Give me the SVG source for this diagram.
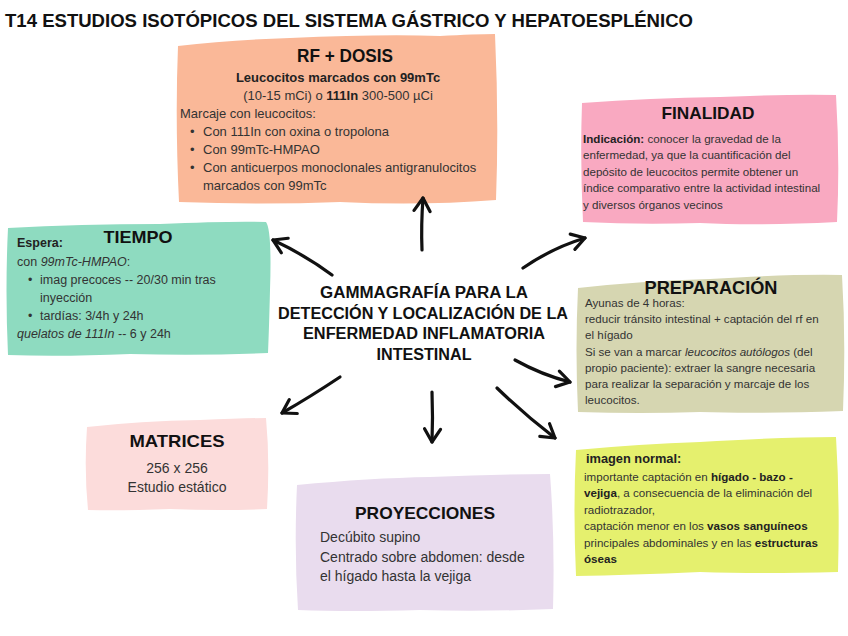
<svg xmlns="http://www.w3.org/2000/svg" width="848" height="636" viewBox="0 0 848 636">
<style>
.h{font-family:"Liberation Sans",Arial,sans-serif;font-weight:bold;fill:#111;}
.t{font-family:"Liberation Sans",Arial,sans-serif;fill:#333;}
.b{font-weight:bold;fill:#222;}
.i{font-style:italic;}
.s{font-size:11.6px;}
.arr{fill:none;stroke:#111;stroke-width:3.2;stroke-linecap:round;stroke-linejoin:round;}
</style>
<defs>
<marker id="ah" viewBox="0 0 20 20" refX="17" refY="10" markerWidth="20" markerHeight="20" markerUnits="userSpaceOnUse" orient="auto">
<path d="M4,2 L17,10 L4,18" fill="none" stroke="#111" stroke-width="3.2" stroke-linecap="round" stroke-linejoin="round"/>
</marker>
</defs>
<rect width="848" height="636" fill="#fff"/>
<text class="h" x="5" y="27" font-size="19" textLength="688" lengthAdjust="spacingAndGlyphs">T14 ESTUDIOS ISOTÓPICOS DEL SISTEMA GÁSTRICO Y HEPATOESPLÉNICO</text>

<g id="rf-dosis">
<path d="M178,46 Q230,40 290,38 Q380,34 440,36 Q475,34 495,34 Q499,120 496,200 Q420,206 340,202 Q260,205 179,202 Q175,120 178,46 Z" fill="#FAB898"/>
<text class="h" x="345" y="62" font-size="18" text-anchor="middle" textLength="96" lengthAdjust="spacingAndGlyphs">RF + DOSIS</text>
<text class="t b" x="338" y="82" font-size="13" text-anchor="middle">Leucocitos marcados con 99mTc</text>
<text class="t" x="338" y="100" font-size="13" text-anchor="middle">(10-15 mCi) o <tspan class="b">111In</tspan> 300-500 µCi</text>
<text class="t" x="180" y="118" font-size="13">Marcaje con leucocitos:</text>
<text class="t" x="190" y="136" font-size="13">•</text>
<text class="t" x="203" y="136" font-size="13">Con 111In con oxina o tropolona</text>
<text class="t" x="190" y="154" font-size="13">•</text>
<text class="t" x="203" y="154" font-size="13">Con 99mTc-HMPAO</text>
<text class="t" x="190" y="172" font-size="13">•</text>
<text class="t" x="203" y="172" font-size="13">Con anticuerpos monoclonales antigranulocitos</text>
<text class="t" x="203" y="190" font-size="13">marcados con 99mTc</text>
</g>

<g id="finalidad">
<path d="M582,103 Q650,98 720,97 Q790,94 836,95 Q840,160 837,222 Q760,226 700,223 Q640,225 583,222 Q580,160 582,103 Z" fill="#F9A9C1"/>
<text class="h" x="708" y="119" font-size="17" text-anchor="middle" textLength="93" lengthAdjust="spacingAndGlyphs">FINALIDAD</text>
<text class="t s" x="583" y="143"><tspan class="b">Indicación:</tspan> conocer la gravedad de la</text>
<text class="t s" x="583" y="159">enfermedad, ya que la cuantificación del</text>
<text class="t s" x="583" y="176">depósito de leucocitos permite obtener un</text>
<text class="t s" x="583" y="192">índice comparativo entre la actividad intestinal</text>
<text class="t s" x="583" y="209">y diversos órganos vecinos</text>
</g>

<g id="tiempo">
<path d="M8,228 Q80,224 160,224 Q230,221 266,222 Q272,230 270,290 Q269,330 268,353 Q200,356 130,354 Q60,357 8,355 Q5,290 8,228 Z" fill="#8EDBC0"/>
<text class="h" x="138" y="243" font-size="17" text-anchor="middle" textLength="69" lengthAdjust="spacingAndGlyphs">TIEMPO</text>
<text class="t b" x="17" y="247" font-size="12.5">Espera:</text>
<text class="t" x="17" y="266" font-size="12.5">con <tspan class="i">99mTc-HMPAO</tspan>:</text>
<text class="t" x="28" y="284" font-size="12.5">•</text>
<text class="t" x="40" y="284" font-size="12.5">imag precoces -- 20/30 min tras</text>
<text class="t" x="40" y="302" font-size="12.5">inyección</text>
<text class="t" x="28" y="320" font-size="12.5">•</text>
<text class="t" x="40" y="320" font-size="12.5">tardías: 3/4h y  24h</text>
<text class="t" x="17" y="338" font-size="12.5"><tspan class="i">quelatos de 111In</tspan> -- 6 y 24h</text>
</g>

<g id="preparacion">
<path d="M578,288 Q640,281 710,279 Q790,274 842,275 Q846,340 843,411 Q760,414 700,412 Q640,414 578,412 Q575,350 578,288 Z" fill="#D6D6B1"/>
<text class="h" x="711" y="294" font-size="18" text-anchor="middle" textLength="133" lengthAdjust="spacingAndGlyphs">PREPARACIÓN</text>
<text class="t s" x="585" y="307">Ayunas de 4 horas:</text>
<text class="t s" x="585" y="323">reducir tránsito intestinal + captación del rf en</text>
<text class="t s" x="585" y="339">el hígado</text>
<text class="t s" x="585" y="356">Si se van a marcar <tspan class="i">leucocitos autólogos</tspan> (del</text>
<text class="t s" x="585" y="372">propio paciente): extraer la sangre necesaria</text>
<text class="t s" x="585" y="388">para realizar la separación y marcaje de los</text>
<text class="t s" x="585" y="404">leucocitos.</text>
</g>

<g id="imagen-normal">
<path d="M576,450 Q640,444 700,442 Q780,437 836,437 Q840,500 838,572 Q760,574 700,572 Q630,575 576,576 Q573,510 576,450 Z" fill="#E5F06E"/>
<text class="t b" x="586" y="463" font-size="12.8">imagen normal:</text>
<text class="t s" x="584" y="481"> importante captación en <tspan class="b">hígado - bazo -</tspan></text>
<text class="t s" x="584" y="497"><tspan class="b">vejiga</tspan>, a consecuencia de la eliminación del</text>
<text class="t s" x="584" y="514">radiotrazador,</text>
<text class="t s" x="584" y="530">captación menor en los <tspan class="b">vasos sanguíneos</tspan></text>
<text class="t s" x="584" y="547">principales abdominales y en las <tspan class="b">estructuras</tspan></text>
<text class="t s b" x="584" y="563">óseas</text>
</g>

<g id="matrices">
<path d="M87,427 Q140,421 200,420 Q245,418 266,418 Q270,460 267,509 Q220,511 170,509 Q120,511 88,510 Q84,470 87,427 Z" fill="#FCDCDB"/>
<text class="h" x="177" y="447" font-size="17" text-anchor="middle" textLength="95" lengthAdjust="spacingAndGlyphs">MATRICES</text>
<text class="t" x="177" y="473" font-size="14" text-anchor="middle">256 x 256</text>
<text class="t" x="177" y="492" font-size="14" text-anchor="middle">Estudio estático</text>
</g>

<g id="proyecciones">
<path d="M297,485 Q370,478 430,477 Q500,474 550,474 Q555,540 553,609 Q480,612 420,610 Q350,612 298,610 Q294,550 297,485 Z" fill="#E9DCEE"/>
<text class="h" x="425" y="519" font-size="17" text-anchor="middle" textLength="140" lengthAdjust="spacingAndGlyphs">PROYECCIONES</text>
<text class="t" x="320" y="542" font-size="14">Decúbito supino</text>
<text class="t" x="320" y="562" font-size="14">Centrado sobre abdomen: desde</text>
<text class="t" x="320" y="581" font-size="14">el hígado hasta la vejiga</text>
</g>

<g id="center">
<text class="h" x="424" y="298" font-size="16" text-anchor="middle" textLength="208" lengthAdjust="spacingAndGlyphs">GAMMAGRAFÍA PARA LA</text>
<text class="h" x="423" y="319" font-size="16" text-anchor="middle" textLength="290" lengthAdjust="spacingAndGlyphs">DETECCIÓN Y LOCALIZACIÓN DE LA</text>
<text class="h" x="424" y="339" font-size="16" text-anchor="middle" textLength="242" lengthAdjust="spacingAndGlyphs">ENFERMEDAD INFLAMATORIA</text>
<text class="h" x="424" y="360" font-size="16" text-anchor="middle" textLength="95" lengthAdjust="spacingAndGlyphs">INTESTINAL</text>
</g>

<g id="connectors">
<path class="arr" marker-end="url(#ah)" d="M422,250 Q421,225 423,198"/>
<path class="arr" marker-end="url(#ah)" d="M332,275 Q305,255 273,240"/>
<path class="arr" marker-end="url(#ah)" d="M523,268 Q552,248 585,238"/>
<path class="arr" marker-end="url(#ah)" d="M515,360 Q542,375 570,382"/>
<path class="arr" marker-end="url(#ah)" d="M497,388 Q525,415 555,438"/>
<path class="arr" marker-end="url(#ah)" d="M432,392 Q433,418 432,442"/>
<path class="arr" marker-end="url(#ah)" d="M340,377 Q310,397 282,413"/>
</g>
</svg>
